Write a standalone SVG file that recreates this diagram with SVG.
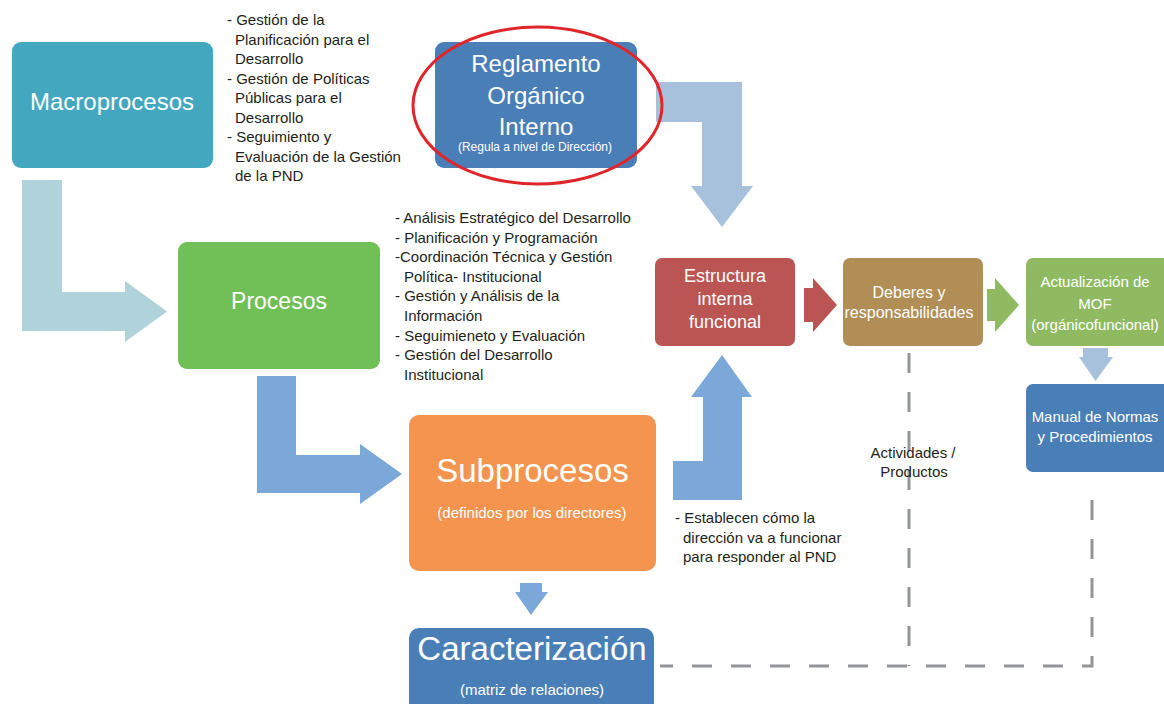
<svg xmlns="http://www.w3.org/2000/svg" width="1164" height="704" viewBox="0 0 1164 704">
<style>
text{font-family:"Liberation Sans",Arial,sans-serif}
.w{fill:#ffffff;text-anchor:middle}
.t{fill:#231f20;font-size:15px}
.dash{fill:none;stroke:#939598;stroke-width:3;stroke-dasharray:20 19}
</style>
<rect width="1164" height="704" fill="#ffffff"/>
<g id="connectors">
<path d="M22 180 H62 V292 H125 V281 L167 311.5 L125 342 V331 H22 Z" fill="#b0d3db"/>
<path d="M257 376 H296 V455 H360 V444 L402 474 L360 504 V493 H257 Z" fill="#7ba7d9"/>
<path d="M520 583 H542 V592 H548 L531 615 L515 592 H520 Z" fill="#7ba7d9"/>
<path d="M656 82 H742 V186 H753 L722 227 L691 186 H702 V122 H656 Z" fill="#a7c1dc"/>
<path d="M673 500 V461 H703 V397 H691 L722 355 L752 397 H742 V500 Z" fill="#7ba7d9"/>
<path d="M804 288 H813 V278 L837 305 L813 332 V322 H804 Z" fill="#bb5553"/>
<path d="M987 289 H995 V278 L1019 305 L995 332 V321 H987 Z" fill="#8fba62"/>
<path d="M1083 348 H1108 V357 H1113 L1095.5 381 L1079 357 H1083 Z" fill="#a7c1dc"/>
<path class="dash" d="M909 353 V666"/>
<path class="dash" d="M1092 482 V666 H660" stroke-dashoffset="21"/>
</g>
<g id="macroprocesos">
<rect x="12" y="42" width="201" height="126" rx="9" fill="#44a7c0"/>
<text class="w" x="112" y="110" font-size="24">Macroprocesos</text>
</g>
<g id="reglamento">
<rect x="435" y="42" width="202" height="126" rx="9" fill="#4a7eb7"/>
<text class="w" x="536" y="72" font-size="24">Reglamento</text>
<text class="w" x="536" y="103.5" font-size="24">Orgánico</text>
<text class="w" x="536" y="135" font-size="24">Interno</text>
<text class="w" x="535" y="151" font-size="12">(Regula a nivel de Dirección)</text>
<ellipse cx="537.5" cy="105.5" rx="124.5" ry="78.5" fill="none" stroke="#e0262b" stroke-width="3"/>
</g>
<g id="procesos">
<rect x="178" y="242" width="202" height="127" rx="9" fill="#70bf57"/>
<text class="w" x="279" y="309" font-size="23">Procesos</text>
</g>
<g id="subprocesos">
<rect x="409" y="415" width="247" height="156" rx="10" fill="#f5944f"/>
<text class="w" x="532.5" y="482" font-size="33">Subprocesos</text>
<text class="w" x="532" y="518" font-size="15">(definidos por los directores)</text>
</g>
<g id="caracterizacion">
<rect x="409" y="628" width="245" height="86" rx="10" fill="#4a7eb7"/>
<text class="w" x="532" y="660" font-size="33">Caracterización</text>
<text class="w" x="532" y="695" font-size="15">(matriz de relaciones)</text>
</g>
<g id="estructura">
<rect x="655" y="258" width="140" height="88" rx="7" fill="#bb5553"/>
<text class="w" x="725" y="282" font-size="18">Estructura</text>
<text class="w" x="725" y="305" font-size="18">interna</text>
<text class="w" x="725" y="328" font-size="18">funcional</text>
</g>
<g id="deberes">
<rect x="843" y="258" width="140" height="88" rx="7" fill="#b08e55"/>
<text class="w" x="909" y="298" font-size="16">Deberes y</text>
<text class="w" x="909" y="318" font-size="16">responsabilidades</text>
</g>
<g id="actualizacion">
<rect x="1026" y="258" width="148" height="88" rx="7" fill="#8fba62"/>
<text class="w" x="1095" y="287" font-size="15">Actualización de</text>
<text class="w" x="1095" y="309" font-size="15">MOF</text>
<text class="w" x="1095" y="330" font-size="15">(orgánicofuncional)</text>
</g>
<g id="manual">
<rect x="1026" y="384" width="148" height="88" rx="7" fill="#4a7eb7"/>
<text class="w" x="1095" y="422" font-size="15">Manual de Normas</text>
<text class="w" x="1095" y="442" font-size="15">y Procedimientos</text>
</g>
<g id="notes">
<text class="t" x="227" y="25">- Gestión de la</text>
<text class="t" x="235" y="44.5">Planificación para el</text>
<text class="t" x="235" y="64">Desarrollo</text>
<text class="t" x="227" y="83.5">- Gestión de Políticas</text>
<text class="t" x="235" y="103">Públicas para el</text>
<text class="t" x="235" y="122.5">Desarrollo</text>
<text class="t" x="227" y="142">- Seguimiento y</text>
<text class="t" x="235" y="161.5">Evaluación de la Gestión</text>
<text class="t" x="235" y="181">de la PND</text>
<text class="t" x="395" y="223">- Análisis Estratégico del Desarrollo</text>
<text class="t" x="395" y="242.6">- Planificación y Programación</text>
<text class="t" x="395" y="262.2">-Coordinación Técnica y Gestión</text>
<text class="t" x="404" y="281.8">Política- Institucional</text>
<text class="t" x="395" y="301.4">- Gestión y Análisis de la</text>
<text class="t" x="404" y="321">Información</text>
<text class="t" x="395" y="340.6">- Seguimieneto y Evaluación</text>
<text class="t" x="395" y="360.2">- Gestión del Desarrollo</text>
<text class="t" x="404" y="379.8">Institucional</text>
<text class="t" x="675" y="523">- Establecen cómo la</text>
<text class="t" x="683" y="542.5">dirección va a funcionar</text>
<text class="t" x="683" y="562">para responder al PND</text>
<text class="t" x="913" y="458" text-anchor="middle">Actividades /</text>
<text class="t" x="914" y="477" text-anchor="middle">Productos</text>
</g>
</svg>
